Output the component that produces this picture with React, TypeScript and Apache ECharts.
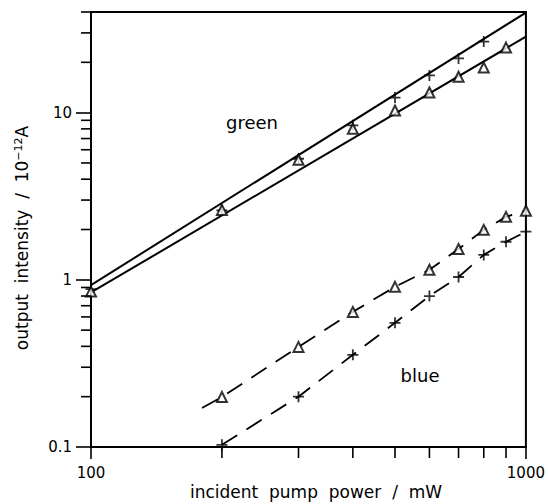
import React, { useEffect, useRef } from 'react';
import * as echarts from 'echarts';

// incident pump power (mW)
const greenX = [100, 200, 300, 400, 500, 600, 700, 800, 900];
const greenPlus = [0.88, 2.6, 5.3, 8.4, 12.3, 16.7, 21.1, 26.6];
const greenTri = [0.85, 2.62, 5.23, 8.0, 10.3, 13.2, 16.4, 18.6, 24.5];
const greenPlusFit = [[100, 0.93], [1000, 39.7]];
const greenTriFit = [[100, 0.84], [1000, 28.5]];

const blueX = [200, 300, 400, 500, 600, 700, 800, 900, 1000];
const blueTri = [0.199, 0.397, 0.643, 0.908, 1.148, 1.53, 1.99, 2.38, 2.59];
const bluePlus = [0.103, 0.2, 0.356, 0.553, 0.8, 1.04, 1.41, 1.69, 1.94];
const blueTriLineStart = [180, 0.171];

const xMinorTicks = [200, 300, 400, 500, 600, 700, 800, 900];
const yMinorTicks = [0.2, 0.3, 0.4, 0.5, 0.6, 0.7, 0.8, 0.9, 2, 3, 4, 5, 6, 7, 8, 9, 20, 30, 40];

const CROSS = 'path://M0,5L10,5M5,0L5,10';
const FONT = '"DejaVu Sans", Arial, sans-serif';

export default function App() {
  const ref = useRef<HTMLDivElement>(null);
  useEffect(() => {
    if (!ref.current) return;
    const chart = echarts.init(ref.current, undefined, { renderer: 'svg' });
    const tickStyle = { stroke: '#000', lineWidth: 1.6 };
    chart.setOption({
      animation: false,
      backgroundColor: '#fff',
      grid: { left: 91, right: 21, top: 12, bottom: 57, show: true, borderColor: '#000', borderWidth: 2, backgroundColor: 'transparent' },
      xAxis: {
        type: 'log', logBase: 10, min: 100, max: 1000,
        axisLine: { lineStyle: { color: '#000', width: 2 } },
        axisTick: { show: true, length: 12, lineStyle: { color: '#000', width: 1.6 } },
        axisLabel: { color: '#000', fontSize: 15, fontFamily: FONT, margin: 18, formatter: (v: number) => String(Math.round(v)) },
        splitLine: { show: false },
      },
      yAxis: {
        type: 'log', logBase: 10, min: 0.1, max: 40,
        axisLine: { lineStyle: { color: '#000', width: 2 } },
        axisTick: { show: true, length: 15, lineStyle: { color: '#000', width: 1.6 } },
        axisLabel: { color: '#000', fontSize: 15, fontFamily: FONT, margin: 19, showMaxLabel: false,
          formatter: (v: number) => (v < 1 ? v.toFixed(1) : String(Math.round(v))) },
        splitLine: { show: false },
      },
      graphic: [
        { type: 'text', x: 316, y: 492, style: { text: 'incident  pump  power  /  mW', fill: '#000', font: `17px ${FONT}`, align: 'center', verticalAlign: 'middle' } },
        { type: 'text', x: 22, y: 238, rotation: Math.PI / 2,
          style: { text: 'output  intensity  /  10{sup|−12}A', fill: '#000', font: `17px ${FONT}`, align: 'center', verticalAlign: 'middle',
            rich: { sup: { fontSize: 11, fontFamily: FONT, verticalAlign: 'top', padding: [0, 0, 8, 0], fill: '#000' } } } },
        { type: 'text', x: 252, y: 122, style: { text: 'green', fill: '#000', font: `18px ${FONT}`, align: 'center', verticalAlign: 'middle' } },
        { type: 'text', x: 420, y: 375, style: { text: 'blue', fill: '#000', font: `18px ${FONT}`, align: 'center', verticalAlign: 'middle' } },
      ],
      series: [
        { type: 'line', data: greenPlusFit, symbol: 'none', lineStyle: { color: '#000', width: 2 }, z: 2 },
        { type: 'line', data: greenTriFit, symbol: 'none', lineStyle: { color: '#000', width: 2 }, z: 2 },
        { type: 'line', data: [blueTriLineStart, ...blueX.map((x, i) => [x, blueTri[i]])], symbol: 'none',
          lineStyle: { color: '#000', width: 1.8, type: [18, 11] }, z: 2 },
        { type: 'line', data: blueX.map((x, i) => [x, bluePlus[i]]), symbol: 'none',
          lineStyle: { color: '#000', width: 1.8, type: [18, 11] }, z: 2 },
        { type: 'scatter', data: greenPlus.map((v, i) => [greenX[i], v]), symbol: CROSS, symbolSize: 11,
          itemStyle: { color: '#000', borderColor: '#000', borderWidth: 1.8 }, z: 4 },
        { type: 'scatter', data: greenTri.map((v, i) => [greenX[i], v]), symbol: 'emptyTriangle', symbolSize: 10,
          itemStyle: { color: '#000', borderColor: '#000', borderWidth: 1.8 }, z: 4 },
        { type: 'scatter', data: blueX.map((x, i) => [x, bluePlus[i]]), symbol: CROSS, symbolSize: 11,
          itemStyle: { color: '#000', borderColor: '#000', borderWidth: 1.8 }, z: 4 },
        { type: 'scatter', data: blueX.map((x, i) => [x, blueTri[i]]), symbol: 'emptyTriangle', symbolSize: 10,
          itemStyle: { color: '#000', borderColor: '#000', borderWidth: 1.8 }, z: 4 },
        { type: 'custom', clip: false, silent: true, z: 5,
          data: xMinorTicks.map((x) => [x, 0.1]),
          renderItem: (params: any, api: any) => {
            const p = api.coord([api.value(0), api.value(1)]);
            return { type: 'line', shape: { x1: p[0], y1: p[1], x2: p[0], y2: p[1] + 11 }, style: tickStyle };
          } },
        { type: 'custom', clip: false, silent: true, z: 5,
          data: yMinorTicks.map((y) => [100, y]),
          renderItem: (params: any, api: any) => {
            const p = api.coord([api.value(0), api.value(1)]);
            return { type: 'line', shape: { x1: p[0] - 10, y1: p[1], x2: p[0], y2: p[1] }, style: tickStyle };
          } },
      ],
    });
    return () => chart.dispose();
  }, []);
  return <div ref={ref} style={{ position: 'fixed', left: 0, top: 0, width: 548, height: 504 }} />;
}
